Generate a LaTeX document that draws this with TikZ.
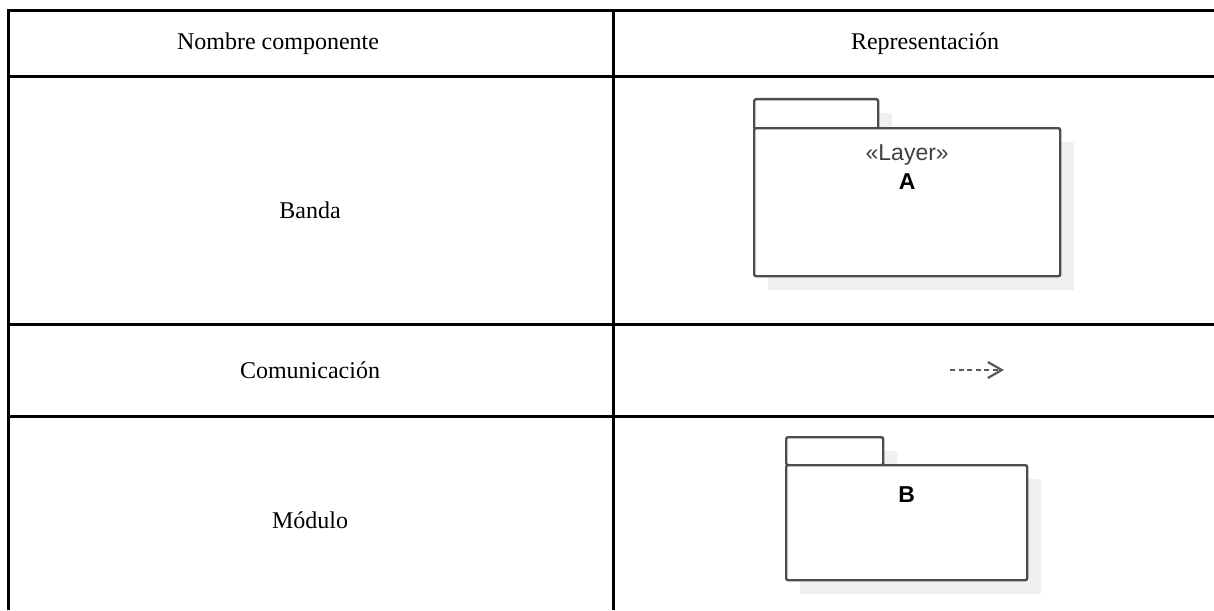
\documentclass[tikz,border=0pt]{standalone}
\usepackage{fontspec}
\setmainfont{Liberation Serif}
\setsansfont{Liberation Sans}
\usetikzlibrary{arrows.meta,positioning,shadows}

\begin{document}
\begin{tikzpicture}[x=0.5pt,y=-0.5pt,
  grid line/.style={line width=1.5pt},
  cell text/.style={font=\fontsize{12}{14}\selectfont},
  pkg part/.style={draw=black!70,fill=white,line width=1.2pt,rounded corners=1pt,
    inner sep=0pt,drop shadow={shadow xshift=7pt,shadow yshift=-7pt,fill=black!6,opacity=1}},
  pkg text/.style={font=\sffamily\fontsize{11.5}{12}\selectfont,inner sep=0pt,anchor=base}]

  \useasboundingbox (0,0) rectangle (1214,610);

  % table rules
  \draw[grid line] (8,610) -- (8,10.5) -- (1214,10.5);
  \draw[grid line] (8,77) -- (1214,77);
  \draw[grid line] (8,324) -- (1214,324);
  \draw[grid line] (8,416) -- (1214,416);
  \draw[grid line] (613,10.5) -- (613,610);

  % texts of the table
  \node[cell text] (head1) at (278,44) {Nombre componente};
  \node[cell text] (head2) at (925,44) {Representación};
  \node[cell text] (banda) at (310,210) {Banda};
  \node[cell text] (comu) at (310,370) {Comunicación};
  \node[cell text] (modulo) at (310,520) {Módulo};

  % package A
  \node[pkg part,minimum width=62pt,minimum height=15pt,anchor=north west] (tabA) at (753,98) {};
  \node[pkg part,minimum width=153pt,minimum height=74pt,anchor=north west] (pkgA) at (753,127) {};
  \node[pkg text,text=black!75] (layerA) at ([yshift=-16.5pt]pkgA.north) {«Layer»};
  \node[pkg text] (nameA) at ([yshift=-31pt]pkgA.north) {\textbf{A}};

  % communication
  \coordinate (comuA) at (950,370);
  \coordinate (comuB) at (1004,370);
  \draw[black!65,line width=1.2pt,dash pattern=on 2.5pt off 1.8pt,
    -{Straight Barb[length=7pt,width=8pt,line width=1.1pt]}] (comuA) -- (comuB);

  % package B
  \node[pkg part,minimum width=48.5pt,minimum height=14pt,anchor=north west] (tabB) at (785,436) {};
  \node[pkg part,minimum width=120.5pt,minimum height=57.5pt,anchor=north west] (pkgB) at (785,464) {};
  \node[pkg text] (nameB) at ([yshift=-19pt]pkgB.north) {\textbf{B}};
\end{tikzpicture}
\end{document}
